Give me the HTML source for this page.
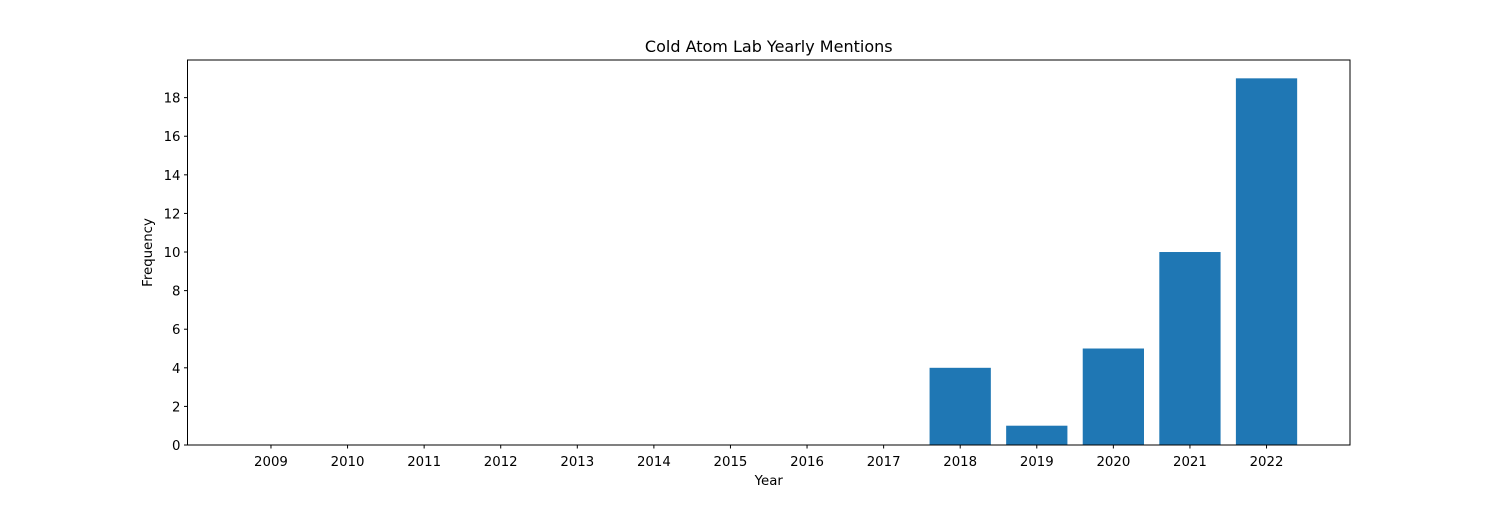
<!DOCTYPE html>
<html><head><meta charset="utf-8"><style>
html,body{margin:0;padding:0;background:#fff;}
svg text{font-family:"DejaVu Sans","Liberation Sans",sans-serif;fill:#000;}
</style></head><body>
<svg id="chart" width="1500" height="500" xmlns="http://www.w3.org/2000/svg">
<rect width="1500" height="500" fill="#fff"/>
<text x="768.75" y="52" font-size="16" text-anchor="middle">Cold Atom Lab Yearly Mentions</text>
<g id="bars"></g>
<g id="xticks"></g>
<g id="yticks"></g>
<rect x="187.5" y="60" width="1162.5" height="385" fill="none" stroke="#000" stroke-width="1"/>
<text x="768.75" y="485" font-size="13.3" text-anchor="middle">Year</text>
<text transform="translate(152,252.5) rotate(-90)" font-size="13.3" text-anchor="middle">Frequency</text>
</svg>
<script>
const years = [2009,2010,2011,2012,2013,2014,2015,2016,2017,2018,2019,2020,2021,2022];
const counts = [0,0,0,0,0,0,0,0,0,4,1,5,10,19];
const yTickValues = [0,2,4,6,8,10,12,14,16,18];

const NS = "http://www.w3.org/2000/svg";
const L = 187.5, R = 1350, T = 60, B = 445;
const xmin = years[0] - 0.4 - (years.length - 1 + 0.8) * 0.05;
const xmax = years[years.length - 1] + 0.4 + (years.length - 1 + 0.8) * 0.05;
const ymax = Math.max(...counts) * 1.05;
const xs = v => L + (v - xmin) / (xmax - xmin) * (R - L);
const ys = v => B - v / ymax * (B - T);

const bars = document.getElementById('bars');
years.forEach((y, i) => {
  const r = document.createElementNS(NS, 'rect');
  const x0 = xs(y - 0.4), x1 = xs(y + 0.4);
  r.setAttribute('x', x0);
  r.setAttribute('width', x1 - x0);
  r.setAttribute('y', ys(counts[i]));
  r.setAttribute('height', ys(0) - ys(counts[i]));
  r.setAttribute('fill', '#1f77b4');
  
  
  bars.appendChild(r);
});

const xt = document.getElementById('xticks');
years.forEach(y => {
  const x = xs(y);
  const l = document.createElementNS(NS, 'line');
  l.setAttribute('x1', x); l.setAttribute('x2', x);
  l.setAttribute('y1', B); l.setAttribute('y2', B + 3.5);
  l.setAttribute('stroke', '#000');
  
  
  xt.appendChild(l);
  const t = document.createElementNS(NS, 'text');
  t.setAttribute('x', x); t.setAttribute('y', B + 21);
  t.setAttribute('font-size', '13.3'); t.setAttribute('text-anchor', 'middle');
  t.textContent = y;
  
  
  xt.appendChild(t);
});

const yt = document.getElementById('yticks');
yTickValues.forEach(v => {
  const y = ys(v);
  const l = document.createElementNS(NS, 'line');
  l.setAttribute('x1', L - 3.5); l.setAttribute('x2', L);
  l.setAttribute('y1', y); l.setAttribute('y2', y);
  l.setAttribute('stroke', '#000');
  
  
  yt.appendChild(l);
  const t = document.createElementNS(NS, 'text');
  t.setAttribute('x', L - 7); t.setAttribute('y', y + 5);
  t.setAttribute('font-size', '13.3'); t.setAttribute('text-anchor', 'end');
  t.textContent = v;
  
  
  yt.appendChild(t);
});
</script>
</body></html>
